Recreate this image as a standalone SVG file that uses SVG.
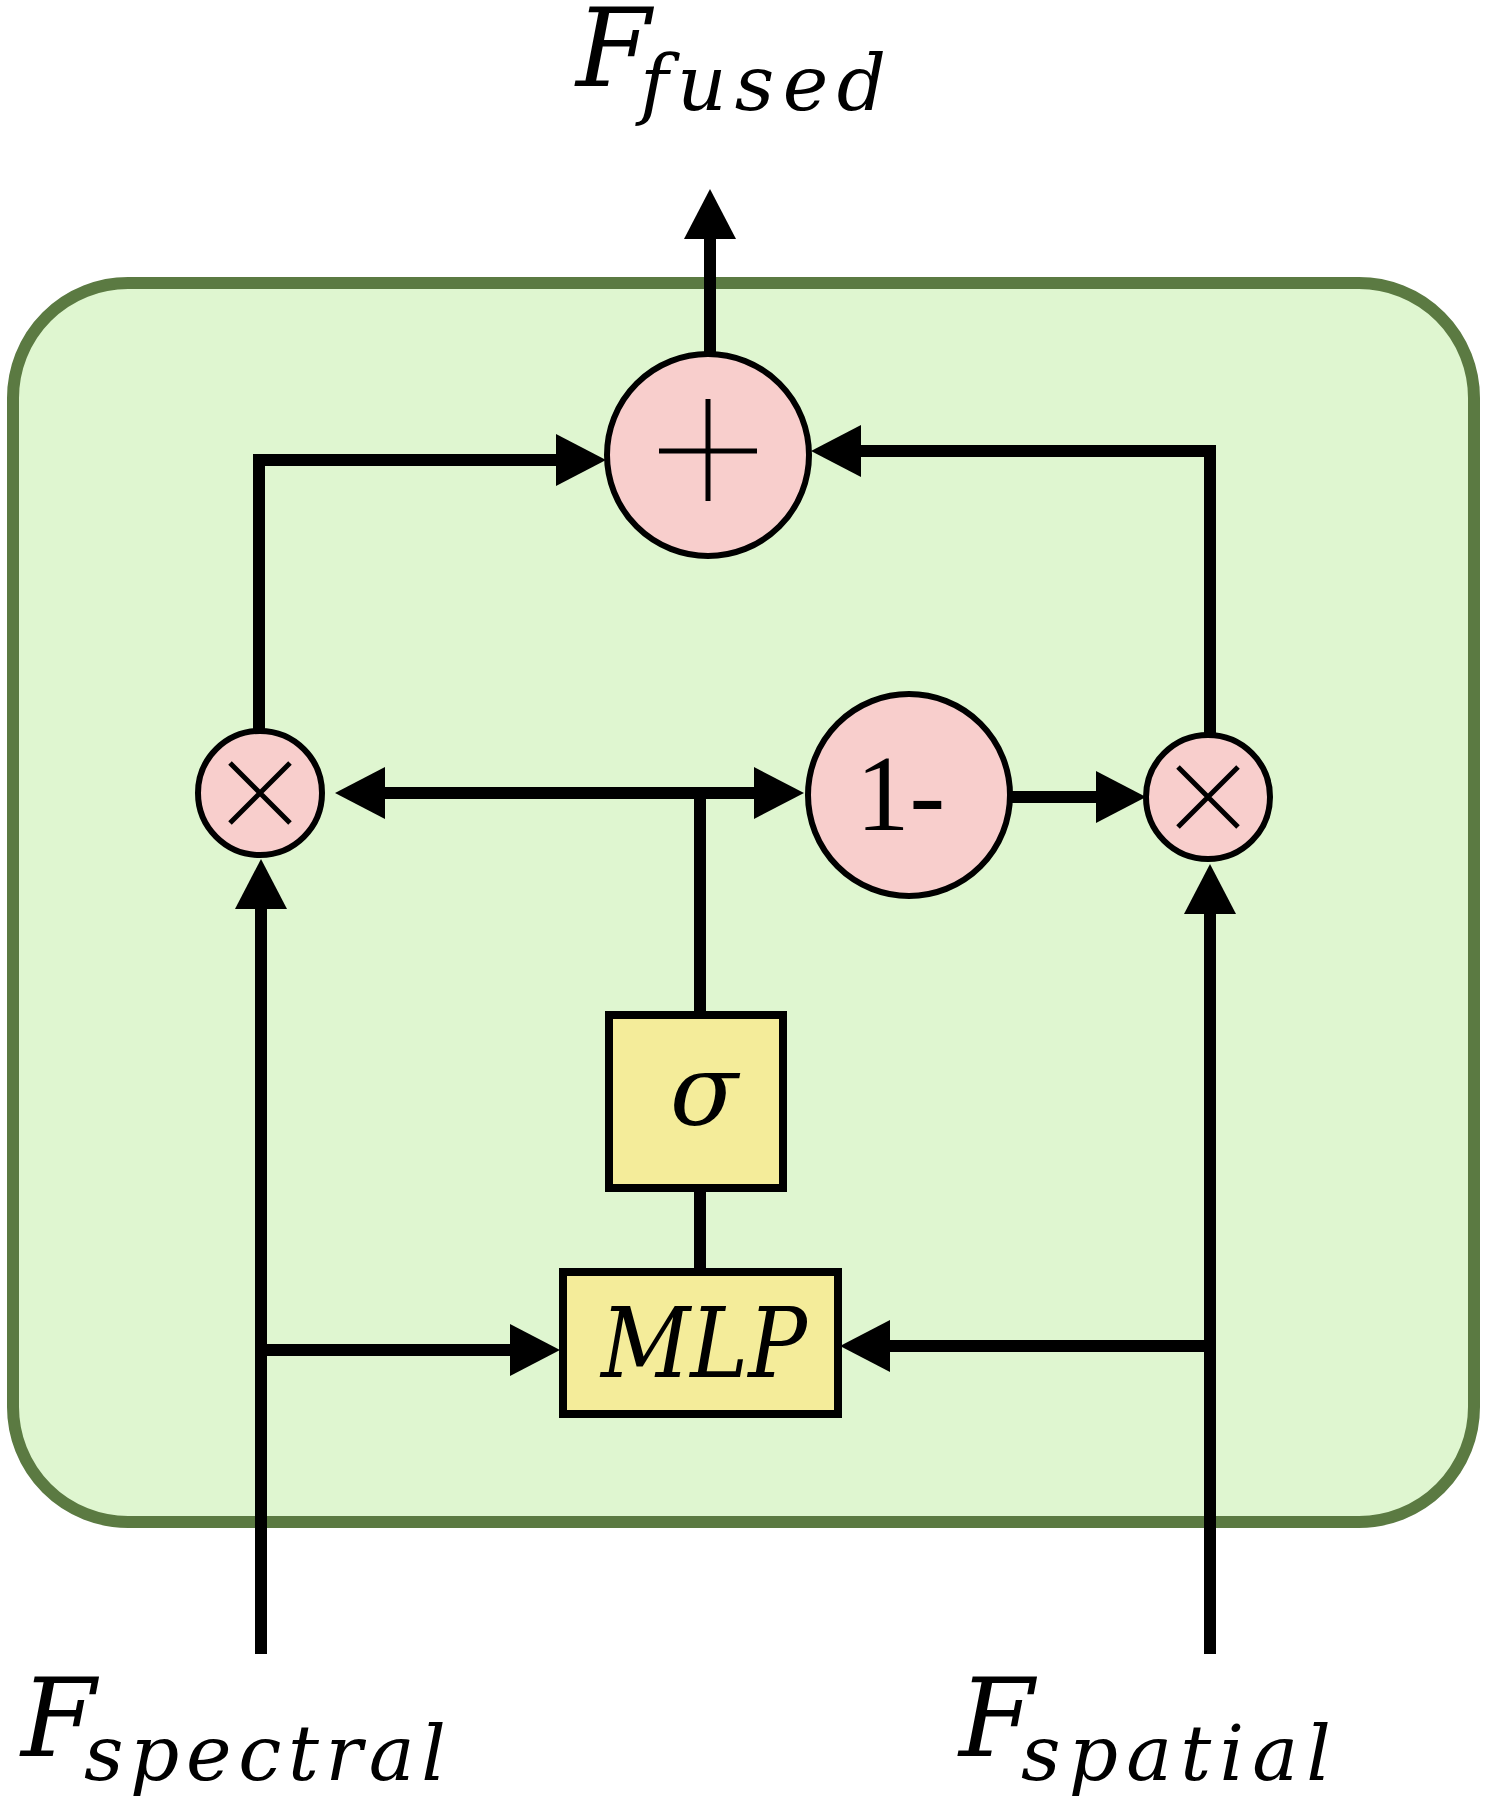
<svg xmlns="http://www.w3.org/2000/svg" width="1490" height="1806" viewBox="0 0 1490 1806">
  <style>
    .conn { fill: none; stroke: #000; stroke-width: 12; }
    .op { fill: #f8cecc; stroke: #000; stroke-width: 6; }
    .sym { fill: none; stroke: #000; stroke-width: 5; }
    .box { fill: #f4ec9a; stroke: #000; stroke-width: 8; }
    .math { font-family: "DejaVu Serif", "Liberation Serif", serif; font-style: italic; fill: #000; }
    .rm { font-family: "Liberation Serif", "DejaVu Serif", serif; fill: #000; }
  </style>
  <defs>
    <marker id="arr" viewBox="0 0 50 52" markerWidth="50" markerHeight="52" refX="0" refY="26" orient="auto" markerUnits="userSpaceOnUse">
      <path d="M0,0 L50,26 L0,52 Z" fill="#000"/>
    </marker>
  </defs>

  <g id="container">
    <rect x="13" y="283" width="1461" height="1239" rx="115" ry="115" fill="#dff6d0" stroke="#5b7a42" stroke-width="12"/>
  </g>

  <g id="connectors">
    <path class="conn" d="M710,354 V239" marker-end="url(#arr)"/>
    <path class="conn" d="M259,730 V460 H556" marker-end="url(#arr)"/>
    <path class="conn" d="M1210,734 V451 H861" marker-end="url(#arr)"/>
    <path class="conn" d="M700,1011 V793"/>
    <path class="conn" d="M706,793 H385" marker-end="url(#arr)"/>
    <path class="conn" d="M694,793 H754" marker-end="url(#arr)"/>
    <path class="conn" d="M1011,797 H1096" marker-end="url(#arr)"/>
    <path class="conn" d="M700,1192 V1268"/>
    <path class="conn" d="M261,1654 V909" marker-end="url(#arr)"/>
    <path class="conn" d="M261,1350 H510" marker-end="url(#arr)"/>
    <path class="conn" d="M1210,1654 V914" marker-end="url(#arr)"/>
    <path class="conn" d="M1216,1346 H890" marker-end="url(#arr)"/>
  </g>

  <g id="plus">
    <circle class="op" cx="708" cy="455" r="101"/>
    <path class="sym" d="M708,399 V501 M659,451 H757"/>
  </g>

  <g id="mul-left">
    <circle class="op" cx="260" cy="793" r="62"/>
    <path class="sym" d="M230,763 L290,823 M290,763 L230,823"/>
  </g>

  <g id="one-minus">
    <circle class="op" cx="909" cy="795" r="101"/>
    <text class="rm" x="856" y="830" font-size="107">1-</text>
  </g>

  <g id="mul-right">
    <circle class="op" cx="1208" cy="797" r="62"/>
    <path class="sym" d="M1178,767 L1238,827 M1238,767 L1178,827"/>
  </g>

  <g id="sigma">
    <rect class="box" x="609" y="1015" width="174" height="173"/>
    <text class="math" x="704" y="1125" font-size="100" text-anchor="middle">σ</text>
  </g>

  <g id="mlp">
    <rect class="box" x="563" y="1272" width="275" height="142"/>
    <text class="math" x="601" y="1377" font-size="97" textLength="206" lengthAdjust="spacingAndGlyphs">MLP</text>
  </g>

  <g id="label-fused">
    <text class="math" x="576" y="86" font-size="108">F</text>
    <text class="math" x="640" y="110" font-size="77" textLength="246" lengthAdjust="spacing">fused</text>
  </g>

  <g id="label-spectral">
    <text class="math" x="21" y="1756" font-size="108">F</text>
    <text class="math" x="84" y="1780" font-size="77" textLength="362" lengthAdjust="spacing">spectral</text>
  </g>

  <g id="label-spatial">
    <text class="math" x="959" y="1756" font-size="108">F</text>
    <text class="math" x="1021" y="1780" font-size="77" textLength="310" lengthAdjust="spacing">spatial</text>
  </g>
</svg>
